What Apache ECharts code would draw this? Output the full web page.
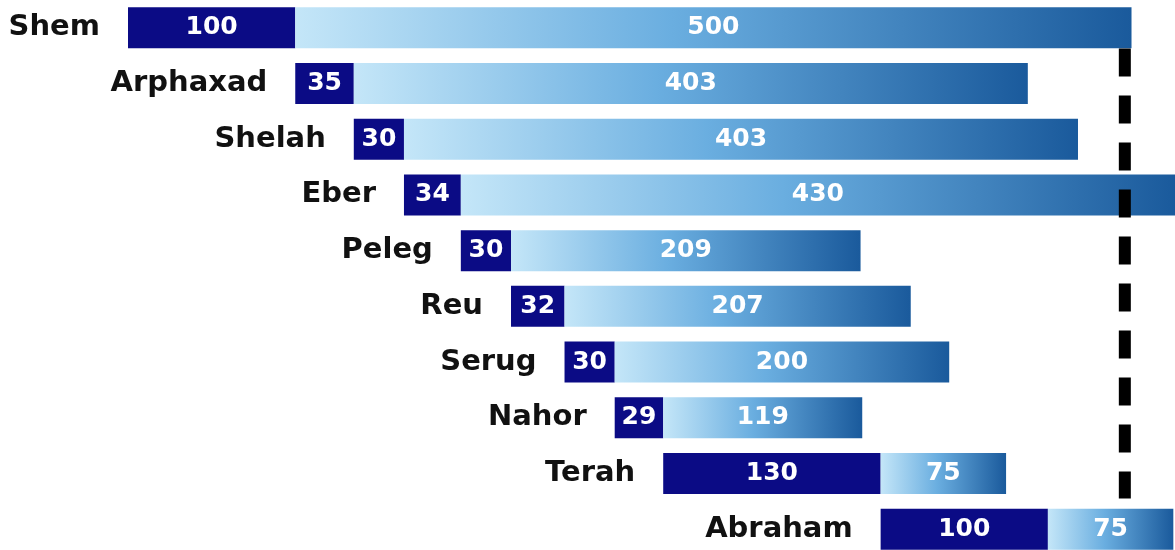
<!DOCTYPE html>
<html>
<head>
<meta charset="utf-8">
<script src="https://cdn.jsdelivr.net/npm/echarts@6/dist/echarts.min.js"></script>
<style>
	html, body { margin: 0; padding: 0; background: #fff; overflow: hidden; }
	#chart { width: 1175px; height: 557px; }
</style>
</head>
<body>
<div id="chart"></div>
<script>
	// patriarchs, year each one was born (counted from Shem's birth)
	const names = ['Shem', 'Arphaxad', 'Shelah', 'Eber', 'Peleg', 'Reu', 'Serug', 'Nahor', 'Terah', 'Abraham'];
	const startYears = [0, 100, 135, 165, 199, 229, 261, 291, 320, 450];
	// age when the next son was born (dark part)
	const ageAtSon = [100, 35, 30, 34, 30, 32, 30, 29, 130, 100];
	// years lived after that (gradient part)
	const yearsAfter = [500, 403, 403, 430, 209, 207, 200, 119, 75, 75];
	// dashed marker line: year, and from/to row position
	const dashYear = 596;
	const dashRows = [0.37, 8.45];

	let chart = echarts.init(document.getElementById('chart'));

	const valueLabel = {
		show: true,
		position: 'inside',
		color: '#fff',
		fontFamily: 'DejaVu Sans',
		fontWeight: 'bold',
		fontSize: 25
	};

	chart.setOption({
		animation: false,
		grid: { left: 128, right: 0, top: 0, bottom: 0 },
		xAxis: { type: 'value', min: 0, max: 626, show: false },
		yAxis: [
			{ type: 'category', data: names, inverse: true, show: false },
			{ type: 'value', min: -0.5, max: 9.5, inverse: true, show: false }
		],
		series: [
			{
				name: 'start',
				type: 'bar',
				stack: 'life',
				barWidth: 41,
				silent: true,
				itemStyle: { color: 'transparent' },
				label: {
					show: true,
					position: 'insideRight',
					distance: 28,
					formatter: '{b}',
					color: '#111',
					fontFamily: 'DejaVu Sans',
					fontWeight: 'bold',
					fontSize: 29
				},
				data: startYears
			},
			{
				name: 'age at son',
				type: 'bar',
				stack: 'life',
				barWidth: 41,
				itemStyle: { color: '#0b0b85' },
				label: valueLabel,
				data: ageAtSon
			},
			{
				name: 'years after',
				type: 'bar',
				stack: 'life',
				barWidth: 41,
				itemStyle: {
					color: new echarts.graphic.LinearGradient(0, 0, 1, 0, [
						{ offset: 0, color: '#c4e6f8' },
						{ offset: 0.45, color: '#6aaee0' },
						{ offset: 1, color: '#1a5a9c' }
					])
				},
				label: valueLabel,
				data: yearsAfter
			},
			{
				name: 'marker',
				type: 'line',
				yAxisIndex: 1,
				symbol: 'none',
				silent: true,
				z: 5,
				lineStyle: { color: '#000', width: 12, type: [28, 19], cap: 'butt' },
				data: dashRows.map(r => [dashYear, r])
			}
		]
	});
</script>
</body>
</html>
